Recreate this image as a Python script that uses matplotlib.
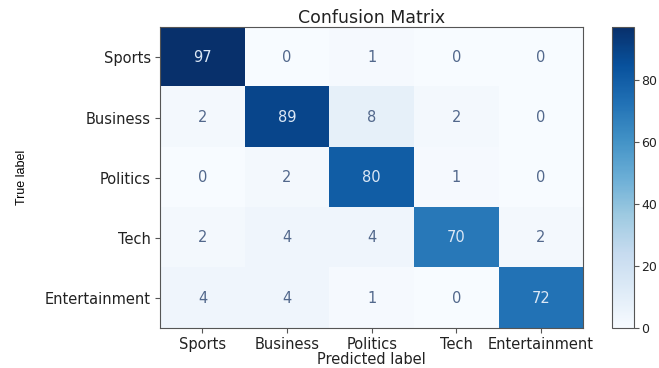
import numpy as np
import matplotlib.pyplot as plt

classes = ['Sports', 'Business', 'Politics', 'Tech', 'Entertainment']
cm = np.array([
    [97, 0, 1, 0, 0],
    [2, 89, 8, 2, 0],
    [0, 2, 80, 1, 0],
    [2, 4, 4, 70, 2],
    [4, 4, 1, 0, 72],
])
cbar_ticks = [0, 20, 40, 60, 80]

fig = plt.figure(figsize=(6.59, 3.68), dpi=100)
ax = fig.add_axes([0.243, 0.108, 0.642, 0.818])
cax = fig.add_axes([0.929, 0.108, 0.033, 0.818])

cmap = plt.cm.Blues
im = ax.imshow(cm, cmap=cmap, aspect='auto', vmin=0, vmax=cm.max())

# cell annotations, light text on dark cells
thresh = cm.max() / 2.0
for i in range(cm.shape[0]):
    for j in range(cm.shape[1]):
        color = '#dce8f6' if cm[i, j] > thresh else '#52688c'
        ax.text(j, i, str(cm[i, j]), ha='center', va='center',
                color=color, fontsize=10.5)

ax.set_xticks(range(len(classes)))
ax.set_xticklabels(classes, fontsize=10.5, color='#222222')
ax.set_yticks(range(len(classes)))
ax.set_yticklabels(classes, fontsize=10.5, color='#222222')
ax.tick_params(pad=3, colors='#555555', labelcolor='#222222')
ax.set_xlabel('Predicted label', fontsize=10.5, labelpad=0, color='#222222')
ax.set_ylabel('True label', fontsize=9, family='Liberation Sans', labelpad=12)
ax.set_title('Confusion Matrix', fontsize=12.5, pad=3, color='#222222')
for s in ax.spines.values():
    s.set_edgecolor('#555555')

cb = fig.colorbar(im, cax=cax)
cb.set_ticks(cbar_ticks)
cb.ax.tick_params(labelsize=9, pad=2, colors='#555555', labelcolor='#222222')
cb.outline.set_edgecolor('#555555')

fig.savefig('out.png', dpi=100)
